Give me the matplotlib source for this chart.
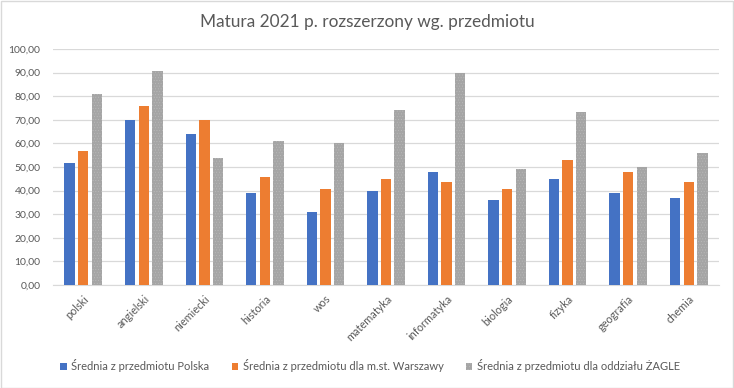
import matplotlib
matplotlib.use("Agg")
import matplotlib.pyplot as plt
import numpy as np
from matplotlib.patches import Rectangle

categories = ["polski", "angielski", "niemiecki", "historia", "wos", "matematyka",
              "informatyka", "biologia", "fizyka", "geografia", "chemia"]
polska = [51.8, 70.0, 64.1, 39.0, 31.0, 39.9, 48.0, 36.1, 45.0, 39.0, 36.9]
warszawa = [56.9, 76.0, 70.0, 45.8, 40.7, 45.0, 43.7, 40.7, 53.0, 48.0, 43.7]
zagle = [81.0, 90.8, 53.9, 61.1, 60.3, 74.3, 90.0, 49.2, 73.4, 50.1, 56.0]
series_names = ["Średnia z przedmiotu Polska",
                "Średnia z przedmiotu dla m.st. Warszawy",
                "Średnia z przedmiotu dla oddziału ŻAGLE"]
yticks = np.arange(0, 101, 10)
ytick_labels = [f"{v:.2f}".replace(".", ",") for v in yticks]
title = "Matura 2021 p. rozszerzony wg. przedmiotu"

plt.rcParams['font.family'] = ['Lato', 'DejaVu Sans']
plt.rcParams['hatch.linewidth'] = 0.3

fig = plt.figure(figsize=(7.34, 3.88), dpi=100)
W, H = 734, 388
ax = fig.add_axes([53 / W, 1 - 285 / H, (719 - 53) / W, (285 - 49) / H])

x = np.arange(len(categories))
bw = 0.172
off = 0.225
ax.bar(x - off, polska, bw, color="#4472C4", label=series_names[0], zorder=3)
ax.bar(x, warszawa, bw, color="#ED7D31", label=series_names[1], zorder=3)
ax.bar(x + off, zagle, bw, color="#A5A5A5", edgecolor="#BDBDBD", linewidth=0,
       hatch="......", label=series_names[2], zorder=3)

ax.set_xlim(-0.5, len(categories) - 0.5)
ax.set_ylim(0, 100)
ax.set_yticks(yticks)
ax.set_yticklabels(ytick_labels)
ax.set_xticks(x)
ax.set_xticklabels(categories, rotation=45, ha="right", rotation_mode="anchor")
ax.yaxis.grid(True, color="#D9D9D9", linewidth=0.9, zorder=0)
for s in ["top", "right", "left"]:
    ax.spines[s].set_visible(False)
ax.spines["bottom"].set_color("#D9D9D9")
ax.tick_params(axis="both", length=0, colors="#595959")
ax.tick_params(axis="x", pad=6, labelsize=7.8)
ax.tick_params(axis="y", pad=9, labelsize=7.5)

fig.text(0.5, 1 - 22 / H, title, ha="center", va="center", fontsize=12.4, color="#595959")

leg = fig.legend(loc="center", bbox_to_anchor=(370 / W, 1 - 366 / H), ncol=3, frameon=False,
                 fontsize=8.0, handlelength=0.6, handleheight=0.6, handletextpad=0.4,
                 columnspacing=2.0)
for t in leg.get_texts():
    t.set_color("#595959")

fig.patches.append(Rectangle((0.5 / W, 0.5 / H), 1 - 1.5 / W, 1 - 1.5 / H, transform=fig.transFigure,
                             fill=False, edgecolor="#D9D9D9", linewidth=1))

fig.savefig("out.png", dpi=100, facecolor="white")
